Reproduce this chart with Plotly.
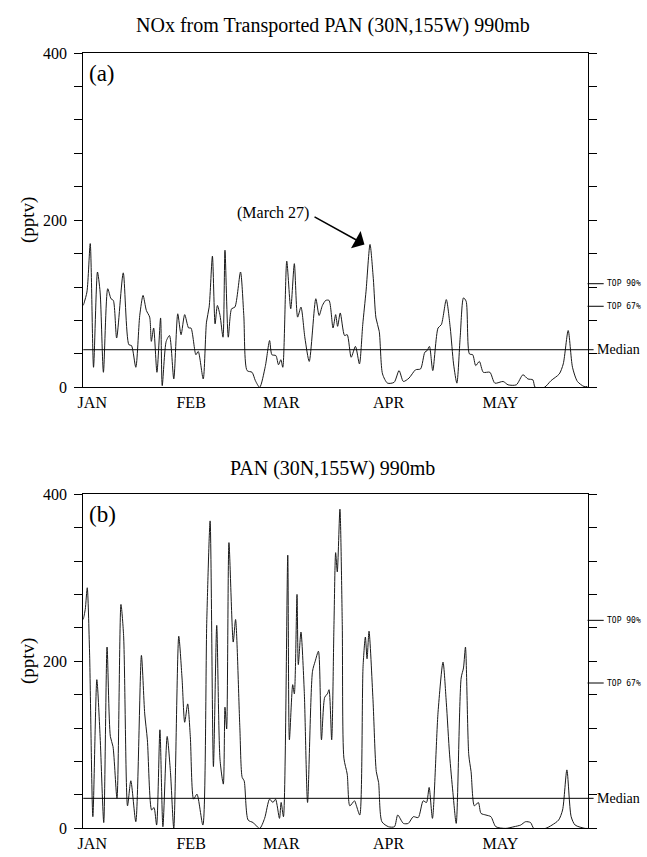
import plotly.graph_objects as go

# ---------------- data ----------------
# Panel (a): NOx from transported PAN (pptv), x in days since Jan 1
day_a = [0.0, 1.09, 2.08, 3.07, 4.25, 5.04, 6.03, 7.32, 8.31, 9.0, 9.99, 11.97, 13.65, 14.44,
         15.73, 16.91, 17.9, 18.89, 19.88, 20.38, 21.07, 22.06, 23.15, 23.64, 24.83, 25.82,
         27.1, 28.29, 29.28, 30.37, 31.55, 32.25, 33.73, 34.42, 35.91, 36.89, 37.69, 38.67,
         39.47, 40.16, 40.95, 41.84, 42.43, 43.42, 44.41, 45.4, 47.08, 48.07, 49.06, 50.54,
         51.53, 52.82, 54.5, 55.79, 56.48, 57.67, 58.46, 59.15, 59.74, 60.93, 62.12, 63.2,
         64.19, 65.18, 66.37, 67.66, 69.63, 70.62, 71.61, 72.6, 73.59,
         74.78, 75.57, 76.16, 76.95, 78.24, 79.03, 80.22, 81.5, 82.69, 83.68, 84.67, 85.86,
         86.85, 87.64, 88.62, 89.61, 91.1, 93.08, 94.56, 95.85, 97.53, 99.5, 100.99, 102.27,
         102.97, 103.66, 104.65, 106.23, 107.22, 108.7, 109.89, 110.88, 111.87, 112.86,
         113.85, 114.64, 115.63, 116.62, 117.51, 118.6, 119.78, 121.76, 123.24, 125.72,
         127.2, 129.67, 131.65, 133.14, 134.62, 135.31, 138.08, 140.06, 142.53, 143.72,
         145.2, 146.49, 147.97, 149.95, 151.0]
nox_a = [98, 114, 172, 24, 138, 114, 18, 118, 106, 104, 59, 137, 51, 50,
         24, 86, 110, 92, 84, 55, 71, 18, 83, 2, 55, 62,
         10, 88, 63, 87, 71, 71, 39, 43, 10, 78, 96, 157,
         76, 98, 86, 60, 164, 60, 94, 96, 138, 86, 20, 18,
         8, 0, 25, 56, 39, 38, 27, 33, 24, 151, 94, 148,
         84, 96, 59, 31, 106, 86, 98, 104, 104,
         71, 87, 73, 89, 62, 63, 36, 49, 28, 75, 115, 171,
         130, 83, 67, 16, 5, 6, 20, 7, 11, 21, 22, 42,
         44, 49, 20, 71, 75, 105, 71, 28, 5, 60,
         107, 103, 40, 39, 26, 31, 18, 18, 5, 7,
         3, 3, 15, 10, 9, 0, 0, 8, 16, 28,
         68, 24, 7, 1, 1]

# Panel (b): PAN (pptv)
day_b = [0.0, 0.59, 1.19, 1.88, 2.87, 4.06, 5.04, 6.13, 7.12, 8.11, 8.9, 10.09, 11.28, 12.07,
         13.25, 14.24, 15.73, 17.41, 18.4, 19.19, 20.47, 21.17, 21.96, 22.95, 23.84, 25.12,
         26.11, 27.1, 28.59, 29.57, 30.37, 31.26, 32.05, 33.04, 34.03, 35.81, 36.99, 37.98,
         38.97, 39.96, 40.95, 41.94, 42.43, 42.93, 43.62, 44.9, 45.6, 46.88, 47.58, 48.17,
         49.36, 50.84, 52.82, 54.3, 55.79, 56.78, 57.57, 58.75, 59.25, 59.94, 61.23, 61.72,
         62.71, 63.2, 64.0, 64.39, 65.18, 66.17, 67.16, 68.64, 69.44, 70.42, 71.32, 72.3,
         73.1, 73.59, 74.38,
         75.07, 75.57, 76.06, 76.85, 77.55, 78.04, 79.03, 79.82, 81.21, 81.8, 82.79, 83.78,
         84.47, 84.97, 85.56, 86.75, 87.74, 88.43, 89.42, 91.39, 93.18, 94.16, 95.85, 97.33,
         98.81, 100.3, 101.78, 102.77, 103.56, 104.55, 106.23, 107.72, 108.7, 109.69, 110.68,
         111.67, 113.15, 113.85, 114.44, 115.43, 116.12, 117.11, 118.3, 119.09, 120.57,
         122.06, 123.54, 126.51, 128.98, 130.96, 132.44, 133.93, 134.92, 138.38, 140.36,
         142.34, 143.52, 144.81, 146.09, 147.28, 150.25, 151.0]
pan_b = [250, 262, 288, 211, 14, 178, 110, 7, 217, 110, 98, 36, 268, 231,
         27, 57, 8, 207, 137, 106, 22, 25, 4, 118, 2, 110,
         67, 0, 230, 180, 127, 149, 110, 35, 41, 4, 250, 368,
         74, 243, 82, 53, 145, 119, 342, 223, 250, 121, 61, 57,
         10, 7, 0, 12, 35, 31, 35, 12, 31, 14, 327, 106,
         172, 161, 280, 196, 235, 164, 31, 188, 200, 212, 106, 157,
         161, 166, 106,
         244, 330, 307, 382, 244, 84, 65, 27, 33, 27, 16, 194,
         229, 203, 236, 154, 68, 55, 8, 2, 2, 16, 6, 6,
         14, 13, 33, 31, 49, 12, 139, 199, 151, 88, 43,
         6, 180, 192, 217, 88, 68, 27, 31, 18, 16,
         14, 2, 0, 2, 4, 8, 7, 0, 0, 4,
         10, 22, 70, 14, 4, 0, 0]

# reference levels (pptv)
median_a, top67_a, top90_a = 45, 97, 124
median_b, top67_b, top90_b = 36, 174, 249

# axis labels
month_names = ["JAN", "FEB", "MAR", "APR", "MAY"]
month_pos = [2.7, 32.3, 59.3, 91.4, 124.9]
y_ticks = list(range(0, 401, 40))
y_ticktext = ["0", "", "", "", "", "200", "", "", "", "", "400"]

# annotation anchor for (March 27) peak
mar27_day, mar27_val = 84.2, 171
mar27_tail_day, mar27_tail_val = 68.8, 205
mar27_text_day, mar27_text_val = 56.7, 209

# ---------------- figure ----------------
W, H = 647, 857
SERIF = "Liberation Serif, Times New Roman, serif"
xdom = [78 / W, 587 / W]
ydom_a = [1 - 387 / H, 1 - 46 / H]
ydom_b = [1 - 837 / H, 1 - 496 / H]

fig = go.Figure()
line_style = dict(color="#1a1a1a", width=1, shape="spline", smoothing=0.7)
fig.add_trace(go.Scatter(x=day_a, y=nox_a, mode="lines", line=line_style,
                         xaxis="x", yaxis="y", showlegend=False, hoverinfo="skip"))
fig.add_trace(go.Scatter(x=day_b, y=pan_b, mode="lines", line=line_style,
                         xaxis="x2", yaxis="y2", showlegend=False, hoverinfo="skip"))

def xax(dom, anchor):
    return dict(domain=dom, anchor=anchor, range=[0, 151], showline=True, linecolor="black",
                linewidth=1, mirror=True, ticks="", tickvals=month_pos, ticktext=month_names,
                tickfont=dict(family=SERIF, size=16, color="black"), showgrid=False,
                zeroline=False, fixedrange=True)

def yax(dom, anchor):
    return dict(domain=dom, anchor=anchor, range=[0, 400], showline=True, linecolor="black",
                linewidth=1, mirror="ticks", ticks="outside", ticklen=8, tickwidth=1,
                tickcolor="black", tickvals=y_ticks, ticktext=y_ticktext,
                tickfont=dict(family=SERIF, size=16, color="black"), ticklabelstandoff=4,
                showgrid=False, zeroline=False, fixedrange=True)

fig.update_layout(
    width=W, height=H, margin=dict(l=0, r=0, t=0, b=0),
    paper_bgcolor="white", plot_bgcolor="white",
    xaxis=xax(xdom, "y"), yaxis=yax(ydom_a, "x"),
    xaxis2=xax(xdom, "y2"), yaxis2=yax(ydom_b, "x2"),
)

shapes = []
annotations = []

def add_levels(xr, yr, ya_ref, med, t67, t90):
    # median line across the panel
    shapes.append(dict(type="line", xref=xr + " domain", yref=yr + " domain",
                       x0=0, x1=1.012, y0=med / 400, y1=med / 400,
                       line=dict(color="black", width=1)))
    for val, label in [(t90, "TOP 90%"), (t67, "TOP 67%")]:
        shapes.append(dict(type="line", xref=xr + " domain", yref=yr + " domain",
                           x0=1.0, x1=1.032, y0=val / 400, y1=val / 400,
                           line=dict(color="black", width=1)))
        annotations.append(dict(text=label, xref=xr + " domain", yref=ya_ref, x=1.034,
                                y=val, xanchor="left", yanchor="middle", showarrow=False,
                                font=dict(family="DejaVu Sans Mono, monospace",
                                          size=8, color="black")))
    annotations.append(dict(text="Median", xref=xr + " domain", yref=ya_ref, x=1.014,
                            y=med, xanchor="left", yanchor="middle", showarrow=False,
                            font=dict(family=SERIF, size=14, color="black")))

add_levels("x", "y", "y", median_a, top67_a, top90_a)
add_levels("x2", "y2", "y2", median_b, top67_b, top90_b)

# titles
annotations.append(dict(text="NOx from Transported PAN (30N,155W) 990mb", xref="paper",
                        yref="paper", x=330 / W, y=1 - 18 / H, showarrow=False,
                        xanchor="center", yanchor="middle",
                        font=dict(family=SERIF, size=20, color="black")))
annotations.append(dict(text="PAN (30N,155W) 990mb", xref="paper", yref="paper",
                        x=330 / W, y=1 - 470 / H, showarrow=False, xanchor="center",
                        yanchor="middle", font=dict(family=SERIF, size=20, color="black")))
# y-axis unit labels
for yd in (ydom_a, ydom_b):
    annotations.append(dict(text="(pptv)", xref="paper", yref="paper", x=22 / W,
                            y=(yd[0] + yd[1]) / 2, textangle=-90, showarrow=False,
                            xanchor="center", yanchor="middle",
                            font=dict(family=SERIF, size=19, color="black")))
# panel letters
annotations.append(dict(text="(a)", xref="x domain", yref="y domain", x=0.008, y=0.94,
                        xanchor="left", yanchor="middle", showarrow=False,
                        font=dict(family=SERIF, size=23, color="black")))
annotations.append(dict(text="(b)", xref="x2 domain", yref="y2 domain", x=0.008, y=0.94,
                        xanchor="left", yanchor="middle", showarrow=False,
                        font=dict(family=SERIF, size=23, color="black")))
# March 27 annotation
annotations.append(dict(text="(March 27)", xref="x", yref="y", x=mar27_text_day,
                        y=mar27_text_val, xanchor="center", yanchor="middle",
                        showarrow=False, font=dict(family=SERIF, size=16, color="black")))
annotations.append(dict(text="", xref="x", yref="y", x=mar27_day, y=mar27_val,
                        axref="x", ayref="y", ax=mar27_tail_day, ay=mar27_tail_val,
                        showarrow=True, arrowhead=1, arrowsize=2.2, arrowwidth=1.5,
                        arrowcolor="black", standoff=0))

fig.update_layout(shapes=shapes, annotations=annotations)
fig.write_html("out.html")
